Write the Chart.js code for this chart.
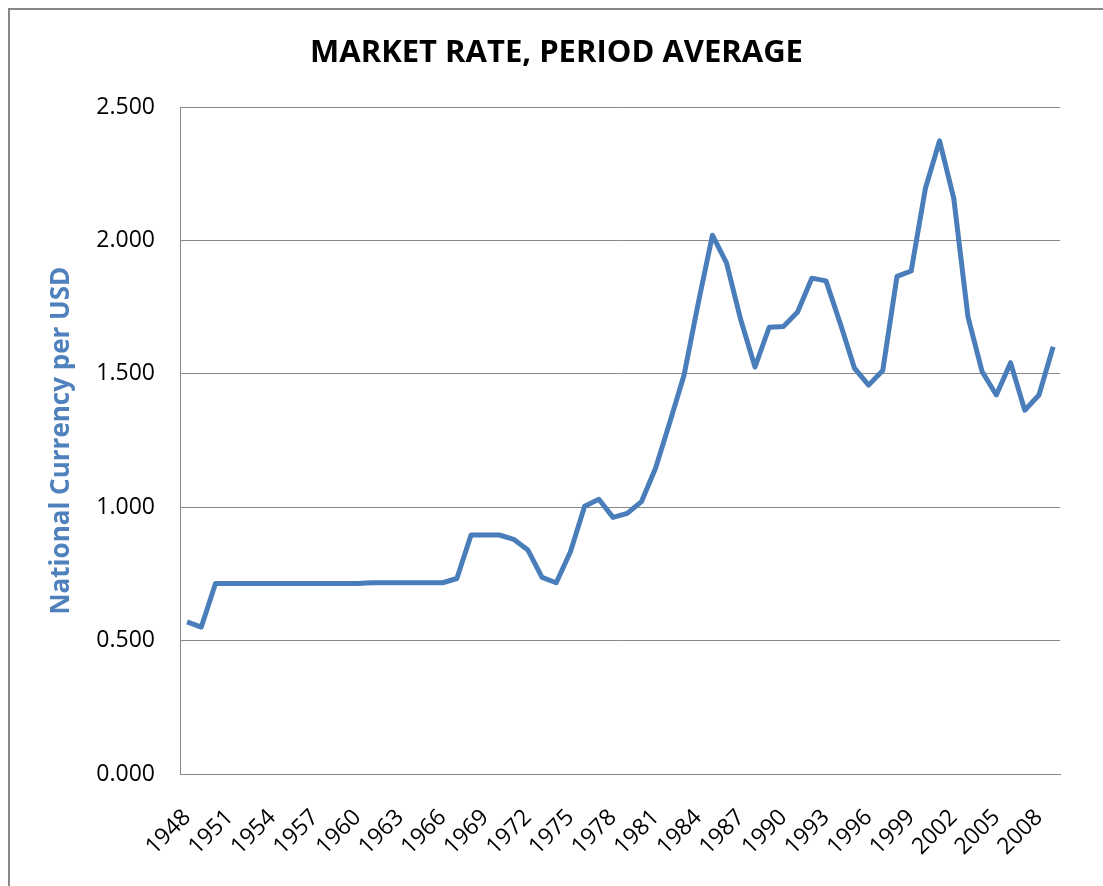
<!DOCTYPE html>
<html>
<head>
<meta charset="utf-8">
<script src="https://cdn.jsdelivr.net/npm/chart.js@4/dist/chart.umd.min.js"></script>
<style>
  html, body { margin: 0; padding: 0; background: #fff; }
  #wrap { position: relative; width: 1103px; height: 886px; overflow: hidden; }
  #frame { position: absolute; left: 8px; top: 8px; width: 1200px; height: 1000px;
           border-left: 2px solid #878787; border-top: 2px solid #878787; }
  canvas { position: absolute; left: 0; top: 0; }
</style>
</head>
<body>
<div id="wrap">
  <div id="frame"></div>
  <canvas id="rateChart" width="1103" height="886"></canvas>
</div>
<script>
const years = ['1948', '1949', '1950', '1951', '1952', '1953', '1954', '1955', '1956', '1957',
  '1958', '1959', '1960', '1961', '1962', '1963', '1964', '1965', '1966', '1967',
  '1968', '1969', '1970', '1971', '1972', '1973', '1974', '1975', '1976', '1977',
  '1978', '1979', '1980', '1981', '1982', '1983', '1984', '1985', '1986', '1987',
  '1988', '1989', '1990', '1991', '1992', '1993', '1994', '1995', '1996', '1997',
  '1998', '1999', '2000', '2001', '2002', '2003', '2004', '2005', '2006', '2007',
  '2008', '2009'];
const rates = [0.570, 0.551, 0.714, 0.714, 0.714, 0.714, 0.714, 0.714, 0.714, 0.714,
  0.714, 0.714, 0.714, 0.717, 0.717, 0.717, 0.717, 0.717, 0.717, 0.733,
  0.896, 0.896, 0.896, 0.880, 0.840, 0.737, 0.717, 0.833, 1.004, 1.030,
  0.962, 0.977, 1.021, 1.147, 1.319, 1.495, 1.765, 2.020, 1.915, 1.702,
  1.526, 1.675, 1.678, 1.732, 1.859, 1.849, 1.690, 1.522, 1.458, 1.513,
  1.866, 1.886, 2.195, 2.374, 2.158, 1.714, 1.508, 1.421, 1.542, 1.364,
  1.421, 1.602];
const xTickLabels = ['1948', '1951', '1954', '1957', '1960', '1963', '1966', '1969', '1972',
  '1975', '1978', '1981', '1984', '1987', '1990', '1993', '1996', '1999', '2002', '2005', '2008'];

const tickFont = { family: 'Open Sans', size: 23 };

const config = {
  type: 'line',
  data: {
    labels: years,
    datasets: [{
      label: 'Market rate',
      data: rates,
      borderColor: '#4A7EBB',
      borderWidth: 5,
      pointRadius: 0,
      tension: 0,
      borderJoinStyle: 'round'
    }]
  },
  options: {
    responsive: false,
    animation: false,
    // left padding 50 + y axis 130 = plot starts at 180, title centred like the original
    layout: { padding: { left: 50, right: 40, top: 0, bottom: 0 } },
    scales: {
      x: {
        offset: true,
        grid: { display: false, drawTicks: false },
        border: { display: true, color: '#888888', width: 1 },
        ticks: {
          autoSkip: false,
          maxRotation: 45,
          minRotation: 45,
          padding: 30,
          color: '#000',
          font: tickFont,
          callback: function (value) {
            const lab = this.getLabelForValue(value);
            return xTickLabels.includes(lab) ? lab : '';
          }
        },
        afterFit: (scale) => { scale.height = 112; }
      },
      y: {
        min: 0,
        max: 2.5,
        grid: { color: '#888888', lineWidth: 1, drawTicks: false },
        border: { display: true, color: '#888888', width: 1 },
        ticks: {
          stepSize: 0.5,
          padding: 25,
          color: '#000',
          font: tickFont,
          callback: (v) => v.toFixed(3)
        },
        title: {
          display: true,
          text: 'National Currency per USD',
          color: '#4F81BD',
          font: { family: 'Open Sans', size: 26, weight: 'bold' },
          padding: { top: -4, bottom: 0 }
        },
        afterFit: (scale) => { scale.width = 130; }
      }
    },
    plugins: {
      legend: { display: false },
      tooltip: { enabled: false },
      title: {
        display: true,
        text: 'MARKET RATE, PERIOD AVERAGE',
        color: '#000',
        font: { family: 'Open Sans', size: 31, weight: 'bold', lineHeight: 1.2 },
        padding: { top: 35, bottom: 35 }
      }
    }
  }
};

const ctx = document.getElementById('rateChart').getContext('2d');
const rateChart = new Chart(ctx, config);
</script>
</body>
</html>
